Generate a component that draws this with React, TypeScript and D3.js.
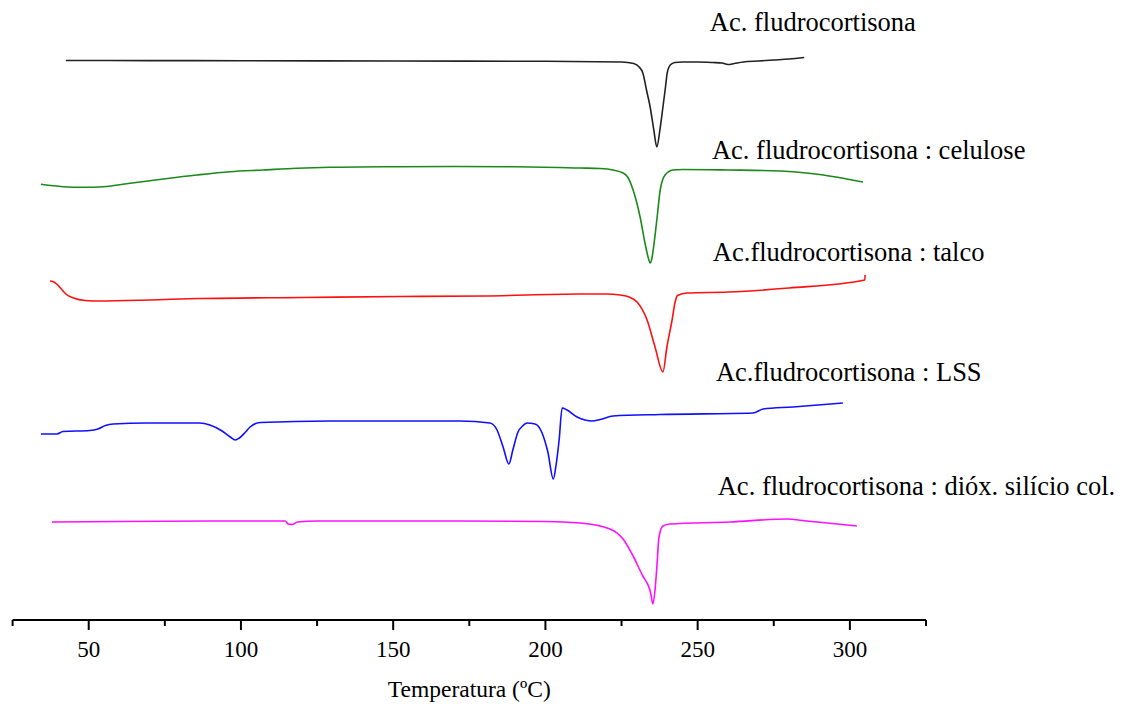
import React from "react";
import * as d3 from "d3";

// Temperature axis (°C)
const xDomain: [number, number] = [25, 325];
const majorTicks = [50, 100, 150, 200, 250, 300];
const minorTicks = [25, 75, 125, 175, 225, 275, 325];
const xTitle = "Temperatura (ºC)";

// DSC curves: [temperature °C, heat flow (a.u., stacked offset)]
const fludro: [number, number][] = [
  [42.5, 559.5], [70, 559.4], [100, 559.3], [150, 559], [200, 558.7], [225, 558], [229, 556.5],
  [230.8, 553], [232, 547], [233.2, 530], [234.4, 513], [235.6, 490], [236.6, 473], [237.6, 490],
  [238.6, 513], [239.4, 532], [240, 547], [241, 555], [242.5, 557.5], [245, 558], [250, 558],
  [255, 557.5], [258, 557], [260, 555.5], [262, 556.5], [265, 558], [270, 559], [275, 560],
  [280, 561], [285, 562.5],
];
const celulose: [number, number][] = [
  [34.3, 435.7], [41.6, 433.3], [48.2, 432.7], [54.8, 433.3], [63.6, 436.7], [74.5, 441],
  [85.5, 445], [96.4, 448.3], [107.3, 450], [118.3, 451.7], [129.3, 452.7], [150, 453.3],
  [170, 453.5], [190, 453.3], [211.4, 452], [218, 451.5], [222.2, 450], [225.5, 447], [227, 443],
  [228.8, 430], [231.1, 403], [232.7, 377], [233.8, 362], [234.4, 357], [235, 362], [235.7, 377],
  [236.7, 403], [237.7, 430], [239.3, 445], [241.9, 450], [245, 450.5], [260, 450], [277.1, 449],
  [290, 445.5], [304.3, 438],
];
const talco: [number, number][] = [
  [37.3, 339], [38.2, 338.5], [39.5, 336], [41, 331], [42.5, 326], [45, 322], [48.8, 319.5],
  [53.7, 319], [70, 320], [86.5, 321.5], [120, 322.5], [152.3, 323.5], [180, 324], [211.4, 326],
  [220, 326], [224.5, 325], [227.5, 323], [230.1, 318], [233.4, 300], [236, 273], [238.6, 248],
  [239.9, 273], [241.6, 300], [242.6, 318], [243.4, 324.5], [246.5, 327], [260, 328], [280, 332],
  [304.9, 340], [305, 345],
];
const lss: [number, number][] = [
  [34.3, 186], [39.6, 186], [41.5, 188.5], [50.4, 189.5], [53, 191], [55.5, 194.5], [58, 196],
  [69, 197], [86.5, 197], [89.8, 195], [93.8, 189], [96.5, 183], [98.1, 180], [99.5, 182],
  [101.5, 188], [103, 193], [106.3, 197.5], [129.3, 199], [171.9, 199], [181.8, 197], [184.1, 190],
  [186.1, 173], [188, 156], [189.3, 170], [191, 188], [192.5, 194], [194, 197], [196.6, 196],
  [198.9, 187], [200.8, 168], [202.6, 141], [203.5, 155], [204.5, 180], [205.5, 212], [207.1, 210],
  [210.4, 203], [213, 200], [215.3, 199], [218, 200.5], [222.2, 204], [237.7, 205.5], [268.2, 207],
  [271.5, 211], [281.3, 213], [297.7, 217],
];
const silicio: [number, number][] = [
  [37.9, 98], [60, 98.5], [100, 99], [114.5, 99], [115.5, 96], [117, 95.5], [118.5, 98], [125, 99],
  [160, 99], [200, 98.5], [211.4, 97], [221.2, 91], [225.5, 81], [228.8, 64], [232, 44], [233.7, 35],
  [234.5, 28], [235.3, 16], [236, 30], [236.6, 53], [237.3, 83], [238.6, 94], [240.9, 96],
  [260.6, 98], [279.3, 101], [285.9, 99], [302.3, 94],
];

const seriesNames = [
  "Ac. fludrocortisona",
  "Ac. fludrocortisona : celulose",
  "Ac.fludrocortisona : talco",
  "Ac.fludrocortisona : LSS",
  "Ac. fludrocortisona : dióx. silício col.",
];
const seriesData = [fludro, celulose, talco, lss, silicio];
const seriesColors = ["#222222", "#1a8a1a", "#ff1010", "#1010ff", "#ff10ff"];
// label anchor: [temperature, heat flow a.u.]
const labelAnchors: [number, number][] = [
  [254.0, 589], [254.7, 461], [255.0, 359], [256.0, 239], [256.6, 125],
];

const W = 1125;
const H = 704;
const axisY = 620;

export default function App() {
  const x = d3.scaleLinear().domain(xDomain).range([12.6, 926]);
  const y = d3.scaleLinear().domain([0, 620]).range([axisY, 0]);
  const line = d3
    .line<[number, number]>()
    .x((d) => x(d[0]))
    .y((d) => y(d[1]))
    .curve(d3.curveMonotoneX);
  const font = "'Liberation Serif', 'Times New Roman', serif";
  const [x0, x1] = x.range();
  return (
    <svg
      width={W}
      height={H}
      style={{ position: "absolute", left: 0, top: 0, background: "#fff" }}
    >
      <rect width={W} height={H} fill="#fff" />
      {seriesData.map((s, i) => (
        <path
          key={i}
          d={line(s) || ""}
          fill="none"
          stroke={seriesColors[i]}
          strokeWidth={1.6}
          strokeLinejoin="round"
        />
      ))}
      {seriesNames.map((n, i) => (
        <text
          key={n}
          x={x(labelAnchors[i][0])}
          y={y(labelAnchors[i][1])}
          fontFamily={font}
          fontSize={26.5}
          fill="#000"
        >
          {n}
        </text>
      ))}
      <line x1={x0} x2={x1} y1={axisY} y2={axisY} stroke="#000" strokeWidth={2} />
      {majorTicks.map((t) => (
        <g key={t}>
          <line x1={x(t)} x2={x(t)} y1={axisY} y2={axisY + 10} stroke="#000" strokeWidth={2} />
          <text
            x={x(t)}
            y={axisY + 37}
            textAnchor="middle"
            fontFamily={font}
            fontSize={23}
            fill="#000"
          >
            {t}
          </text>
        </g>
      ))}
      {minorTicks.map((t) => (
        <line key={t} x1={x(t)} x2={x(t)} y1={axisY} y2={axisY + 6} stroke="#000" strokeWidth={2} />
      ))}
      <text
        x={(x0 + x1) / 2}
        y={697}
        textAnchor="middle"
        fontFamily={font}
        fontSize={23.5}
        fill="#000"
      >
        {xTitle}
      </text>
    </svg>
  );
}
